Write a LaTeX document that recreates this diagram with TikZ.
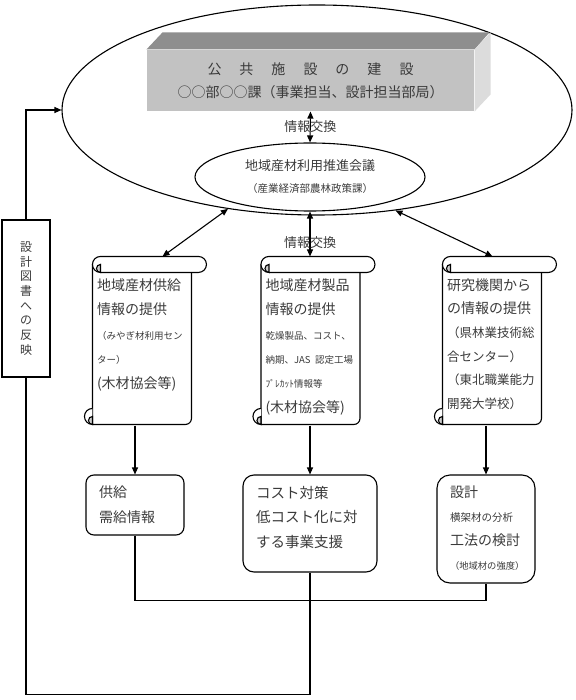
\documentclass[tikz,border=0pt]{standalone}
\usepackage{fontspec}
\setmainfont{Noto Sans CJK JP}
\usetikzlibrary{arrows.meta, positioning, shapes.geometric, calc}
\definecolor{cink}{HTML}{3A3A3A}
\definecolor{cfront}{HTML}{C2C2C2}
\definecolor{ctop}{HTML}{8E8E8E}
\definecolor{cside}{HTML}{DCDCDC}
\definecolor{ccurl}{HTML}{CCCCCC}
\newcommand\kgap{\hspace{18pt}}
% rows keep the same pitch, whatever the size of their text
\newcommand\rows[1]{\begin{tabular}{@{}l@{}}#1\end{tabular}}
% roll at the top, curl at the bottom left
\newcommand\scrollframe[1]{%
  \begin{scope}[shift={(#1.north west)}]
    \draw (0,8) -- (0,168) -- (93,168) arc[start angle=-90, end angle=0, radius=6pt] -- (99,16);
    \draw[fill=white, rounded corners=8pt] (0,0) rectangle (114,16);
    \filldraw[fill=ccurl] (8,8) arc[start angle=90, end angle=270, radius=4pt] -- cycle;
    \draw[fill=white] (0,152) arc[start angle=90, end angle=270, radius=8pt];
    \filldraw[fill=ccurl] (0,160) arc[start angle=90, end angle=270, radius=4pt] -- cycle;
  \end{scope}}
\tikzset{
  every picture/.style={line width=1.1pt},
  arrow/.style={-{Triangle[length=7pt, width=6pt]}},
  both/.style={{Triangle[length=7pt, width=6pt]}-{Triangle[length=7pt, width=6pt]}},
  prism/.style={fill=cfront, minimum width=327pt, minimum height=61pt, inner sep=0pt, align=center, text=cink},
  scrollbody/.style={minimum height=168pt, inner xsep=4pt, inner ysep=0pt, text width=91pt, align=left, text=cink},
  card/.style={draw, rounded corners=11pt, inner xsep=13pt, inner ysep=0pt, align=left, text=cink},
  swaplabel/.style={text=cink, font=\fontsize{13}{15}\selectfont},
}

\begin{document}
\begin{tikzpicture}[x=1pt, y=-1pt]
  \useasboundingbox (0,0) rectangle (575,700);
  \node[ellipse, draw, minimum width=510pt, minimum height=210pt, inner sep=0pt] (outer) at (317,110) {};
  \node[prism, font=\fontsize{14}{23}\selectfont] (works) at (310.5,80.5) {公\kgap 共\kgap 施\kgap 設\kgap の\kgap 建\kgap 設\\○○部○○課（事業担当、設計担当部局）};
  \fill[ctop] (works.north west) -- ++(16,-17) -- ++(327,0) -- (works.north east) -- cycle;
  \fill[cside] (works.north east) -- ++(16,-17) -- ++(0,62) -- (works.south east) -- cycle;
  \node[ellipse, draw, minimum width=230pt, minimum height=68pt, inner sep=0pt, align=center, text=cink, font=\fontsize{13}{22}\selectfont] (council) at (310,177) {地域産材利用推進会議\\{\fontsize{10.5}{22}\selectfont （産業経済部農林政策課）}};

  \node[scrollbody, font=\fontsize{14}{24.5}\selectfont] (supply) at (142.5,341) {\rows{地域産材供給\\情報の提供\\{\fontsize{9.5}{12}\selectfont （みやぎ材利用セン}\\{\fontsize{9.5}{12}\selectfont ター）}\\(木材協会等)\\[13pt]}};
  \scrollframe{supply}
  \node[scrollbody, font=\fontsize{14}{24.4}\selectfont] (product) at (311,341) {\rows{\rule{0pt}{28pt}地域産材製品\\情報の提供\\{\fontsize{9.5}{12}\selectfont 乾燥製品、コスト、}\\{\fontsize{9.5}{12}\selectfont 納期、JAS 認定工場}\\{\fontsize{9.5}{12}\selectfont ﾌﾟﾚｶｯﾄ情報等}\\(木材協会等)}};
  \scrollframe{product}
  \node[scrollbody, font=\fontsize{14}{23.6}\selectfont] (research) at (492.5,341) {\rows{\rule{0pt}{23.7pt}研究機関から\\の情報の提供\\{\fontsize{12.5}{14}\selectfont （県林業技術総}\\{\fontsize{12.5}{14}\selectfont 合センター）}\\{\fontsize{12.5}{14}\selectfont （東北職業能力}\\{\fontsize{12.5}{14}\selectfont 開発大学校）}}};
  \scrollframe{research}

  \node[card, rounded corners=8pt, text width=72pt, minimum height=60pt, font=\fontsize{14}{25}\selectfont] (supplybox) at (135,505) {\rows{供給\\需給情報}};
  \node[card, text width=108pt, minimum height=97pt, font=\fontsize{14.5}{24.5}\selectfont] (costbox) at (310,523.5) {\rows{コスト対策\\低コスト化に対\\する事業支援\\[11pt]}};
  \node[card, rounded corners=13pt, text width=72pt, minimum height=108pt, font=\fontsize{14}{24}\selectfont] (designbox) at (486,529) {\rows{設計\\{\fontsize{10.5}{12}\selectfont 横架材の分析}\\工法の検討\\{\fontsize{9.3}{12}\selectfont （地域材の強度）}}};
  \node[draw, minimum width=48pt, minimum height=157pt, align=center, text=cink, font=\fontsize{12}{14.7}\selectfont] (drawings) at (26,298.5) {設\\計\\図\\書\\へ\\の\\反\\映};

  \draw[both] (works.south) -- node[swaplabel] {情報交換} (council.north);
  \draw[both] (council.south) -- node[swaplabel, pos=0.7] {情報交換} (council.south |- product.north);
  \draw[both] (outer.228.6) -- ($(supply.north)+(20,0)$);
  \draw[both] (outer.308.1) -- (research.north);
  \draw[arrow] (supplybox.north |- supply.south) -- (supplybox.north);
  \draw[arrow] (costbox.north |- product.south) -- (costbox.north);
  \draw[arrow] (designbox.north |- research.south) -- (designbox.north);
  \draw (supplybox.south) -- ++(0,65) -| (designbox.south);
  \draw (costbox.south) -- ++(0,122) -| (drawings.south);
  \draw[arrow] (drawings.north) |- (outer.west);
\end{tikzpicture}
\end{document}
